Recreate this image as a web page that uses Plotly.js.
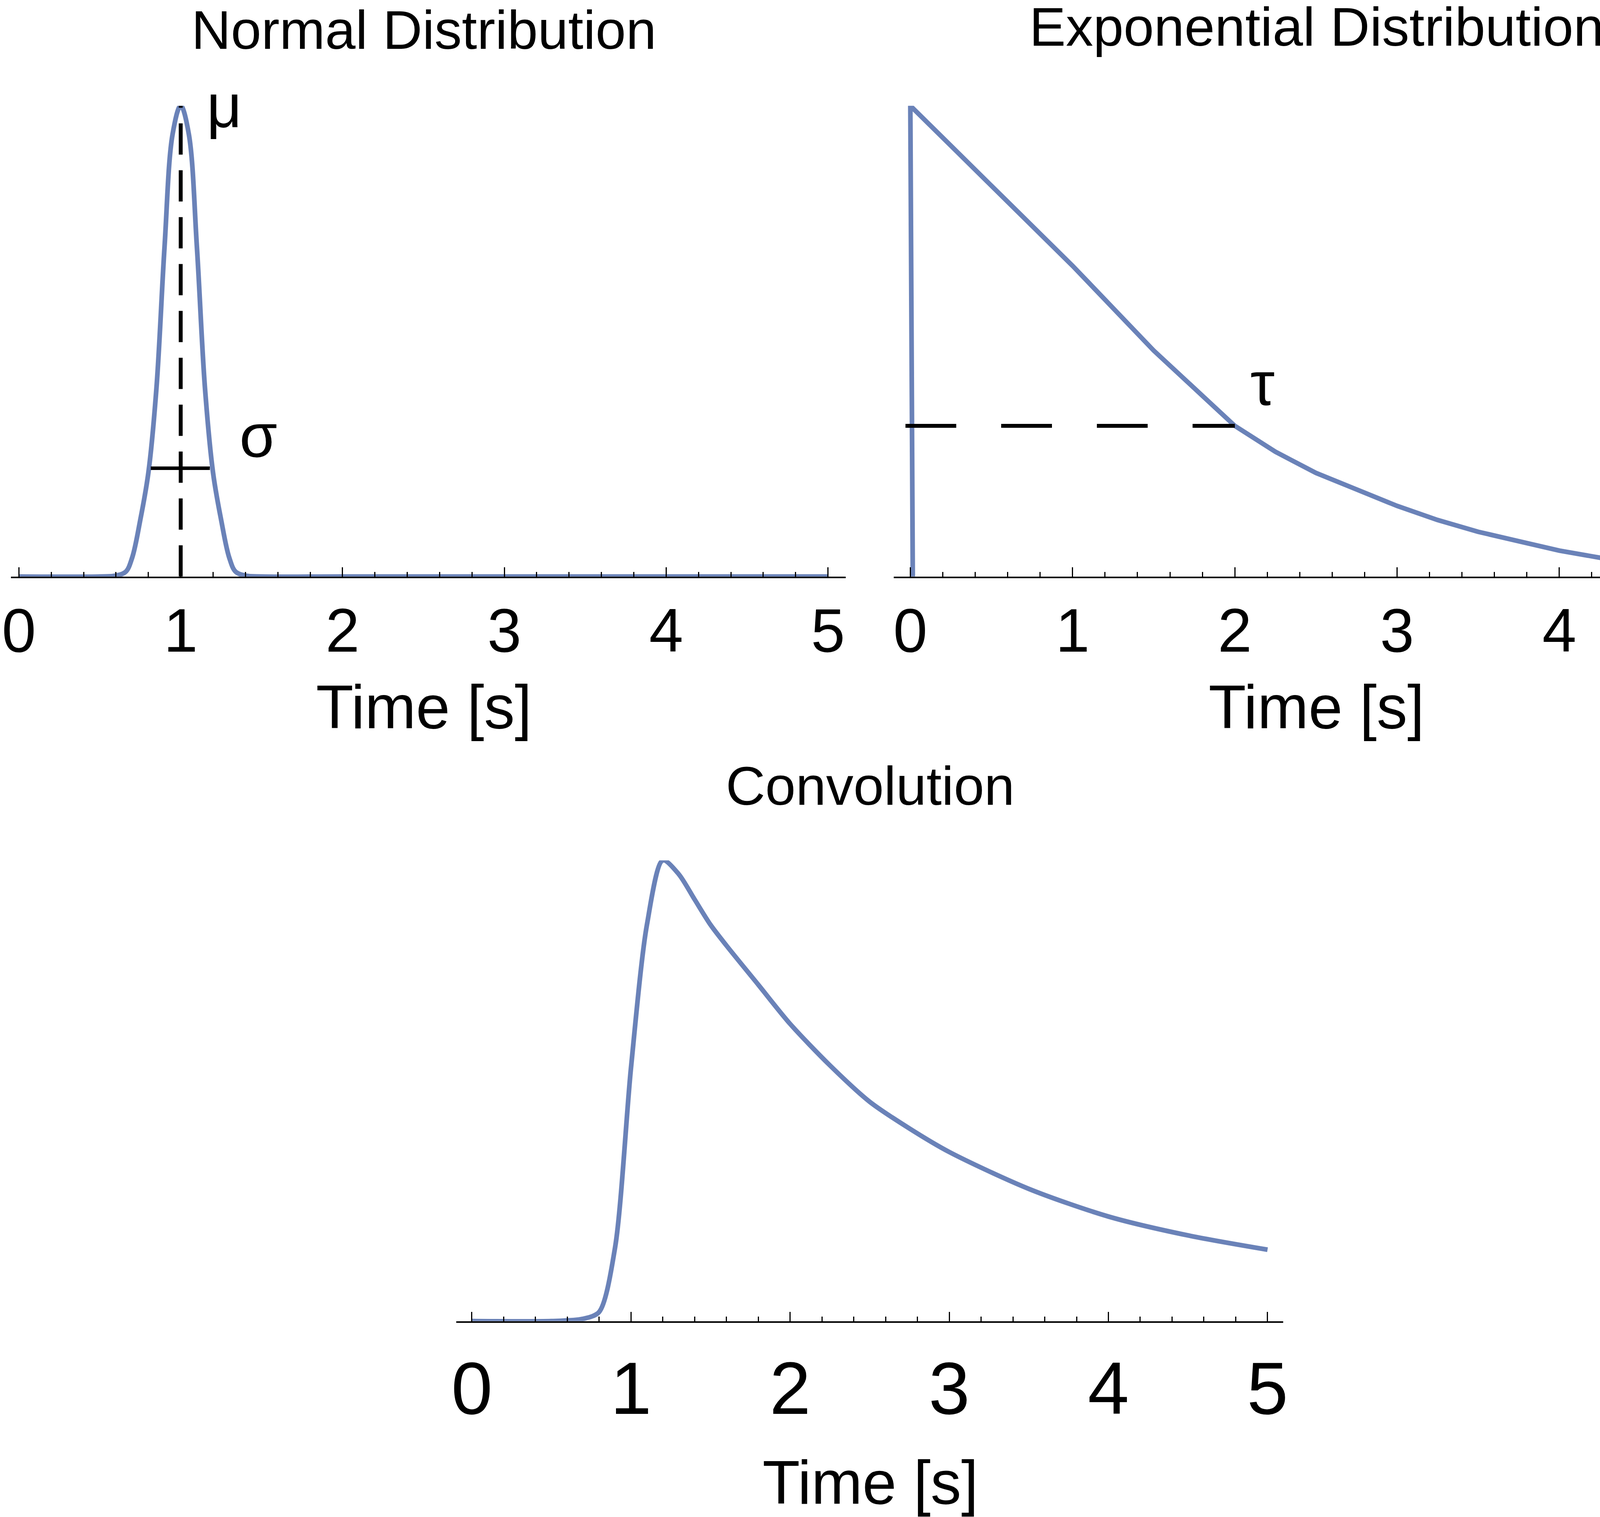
<!DOCTYPE html>
<html><head><script src="https://cdn.plot.ly/plotly-3.0.1.min.js"></script></head>
<body style="margin:0"><div id="g" style="width:4450px;height:3883px"></div>
<script>
// Normal distribution (normalized heights)
const normT = [0,0.5,0.6,0.66,0.7,0.75,0.8,0.85,0.9,0.95,1.0,1.05,1.1,1.15,1.2,1.25,1.3,1.34,1.4,1.5,2,3,4,5];
const normY = [0,0,0.002,0.01,0.04,0.12,0.22,0.40,0.70,0.94,1.0,0.94,0.70,0.40,0.22,0.12,0.04,0.01,0.002,0,0,0,0,0];
// Exponential distribution
const expT = [0.015,0,0.25,0.5,0.75,1,1.25,1.5,1.75,2,2.25,2.5,2.75,3,3.25,3.5,3.75,4,4.25,4.5,4.75,5];
const expY = [0,1,0.915,0.83,0.745,0.66,0.57,0.48,0.40,0.32,0.265,0.22,0.185,0.15,0.12,0.095,0.075,0.055,0.04,0.026,0.012,0];
// Convolution
const convT = [0,0.5,0.7,0.8,0.9,1.0,1.1,1.2,1.3,1.4,1.5,1.6,1.8,2,2.25,2.5,2.75,3,3.5,4,4.5,5];
const convY = [0,0,0.005,0.02,0.16,0.55,0.86,1.0,0.97,0.915,0.86,0.815,0.73,0.645,0.555,0.476,0.418,0.367,0.287,0.227,0.186,0.155];
const ticks = [0,1,2,3,4,5];
const muT = 1, sigmaH = 0.23, sigmaL = 0.815, sigmaR = 1.18, tauT = 2, tauH = 0.32;

const W=1562,H=1363;
const col='rgb(106,130,184)';
const fs=157;
function xa(d,r,f,so){return {domain:d,range:r,showgrid:false,zeroline:false,showline:true,linecolor:'black',linewidth:4,
 tickvals:ticks,ticks:'inside',ticklen:24,tickwidth:3,tickcolor:'black',ticklabelstandoff:so,
 minor:{dtick:0.2,tick0:0,ticks:'inside',ticklen:12,tickwidth:3,tickcolor:'black'},
 tickfont:{family:'Liberation Sans',size:f,color:'black'},fixedrange:true};}
function ya(d,a){return {domain:d,range:[0,1.0],visible:false,anchor:a};}
const tr=[
 {x:normT,y:normY,xaxis:'x',yaxis:'y',mode:'lines',line:{color:col,width:12,shape:'spline'}},
 {x:expT,y:expY,xaxis:'x2',yaxis:'y2',mode:'lines',line:{color:col,width:12,shape:'linear'}},
 {x:convT,y:convY,xaxis:'x3',yaxis:'y3',mode:'lines',line:{color:col,width:12,shape:'spline',smoothing:0.8}}
];
function ann(t,x,y,size,xr,yr){return {text:t,x:x,y:y,xref:xr||'paper',yref:yr||'paper',xanchor:'center',yanchor:'middle',showarrow:false,font:{family:'Liberation Sans',size:size,color:'black'}};}
const layout={width:4450,height:3883,margin:{l:0,r:0,t:0,b:0},showlegend:false,paper_bgcolor:'white',plot_bgcolor:'rgba(0,0,0,0)',
 xaxis:Object.assign(xa([10/W,760/W],[-0.048,5.11],fs,0),{anchor:'y'}),
 yaxis:ya([1-518/H,1-95/H],'x'),
 xaxis2:Object.assign(xa([803/W,1],[-0.103,5.103],fs,0),{anchor:'y2'}),
 yaxis2:ya([1-518/H,1-95/H],'x2'),
 xaxis3:Object.assign(xa([410/W,1153/W],[-0.098,5.098],190,5),{anchor:'y3'}),
 yaxis3:ya([1-1187/H,1-773/H],'x3'),
 shapes:[
  {type:'line',xref:'x',yref:'y',x0:muT,x1:muT,y0:0,y1:1,line:{color:'black',width:10,dash:'80px,40px'}},
  {type:'line',xref:'x',yref:'y',x0:sigmaL,x1:sigmaR,y0:sigmaH,y1:sigmaH,line:{color:'black',width:9}},
  {type:'line',xref:'x2',yref:'y2',x0:-0.03,x1:tauT,y0:tauH,y1:tauH,line:{color:'black',width:10,dash:'130px,115px'}}
 ],
 annotations:[
  ann('Normal Distribution',381/W,1-27/H,140),
  ann('Exponential Distribution',1183/W,1-24/H,140),
  ann('Convolution',782/W,1-706/H,140),
  ann('Time [s]',381/W,1-635/H,fs),
  ann('Time [s]',1183/W,1-635/H,fs),
  ann('Time [s]',782/W,1-1332/H,fs),
  ann('μ',1.27,1.0,fs,'x','y'),
  ann('σ',1.48,0.30,fs,'x','y'),
  ann('τ',2.17,0.41,fs,'x2','y2')
 ]};
Plotly.newPlot('g',tr,layout,{staticPlot:true});
</script></body></html>
